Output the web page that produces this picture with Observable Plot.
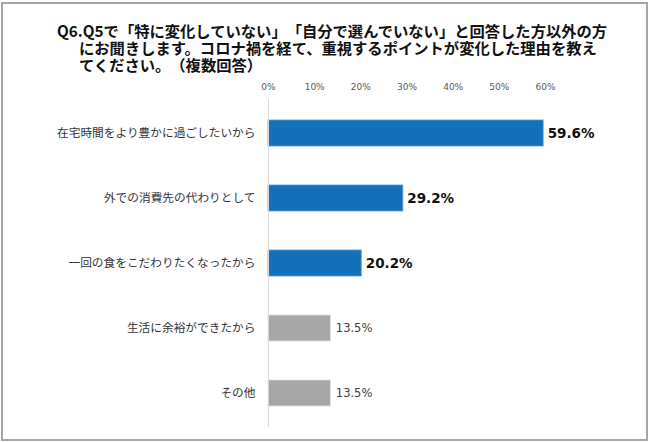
<!DOCTYPE html>
<html><head><meta charset="utf-8">
<script src="https://cdn.jsdelivr.net/npm/d3@7"></script>
<script src="https://cdn.jsdelivr.net/npm/@observablehq/plot@0.6"></script>
<style>
html,body{margin:0;padding:0;background:#fff;}
#wrap{position:relative;width:650px;height:442px;overflow:hidden;}
#frame{position:absolute;left:1px;top:2px;width:647px;height:439px;box-sizing:border-box;border:2px solid #a6a6a6;}
#title{position:absolute;left:57px;top:22px;font:bold 15.3px/17px "Noto Sans CJK JP",sans-serif;color:#111;white-space:nowrap;text-spacing-trim:space-all;}
#title .ln{display:block;height:17px;}
#title .ind{padding-left:22px;}
#chart{position:absolute;left:0;top:0;}
</style></head>
<body><div id="wrap"><div id="frame"></div><div id="chart"></div>
<div id="title"><span class="ln">Q6.Q5で「特に変化していない」「自分で選んでいない」と回答した方以外の方</span><span class="ln ind">にお聞きします。コロナ禍を経て、重視するポイントが変化した理由を教え</span><span class="ln ind">てください。（複数回答）</span></div>
</div>
<script>
const categories = ["在宅時間をより豊かに過ごしたいから","外での消費先の代わりとして","一回の食をこだわりたくなったから","生活に余裕ができたから","その他"];
const values = [59.6, 29.2, 20.2, 13.5, 13.5];
const emphasis = [true, true, true, false, false];
const tickValues = [0, 10, 20, 30, 40, 50, 60];

const data = categories.map((c, i) => ({category: c, value: values[i], emph: emphasis[i]}));
const hi = data.filter(d => d.emph);
const lo = data.filter(d => !d.emph);

const chart = Plot.plot({
  width: 650, height: 442,
  marginLeft: 268, marginRight: 105, marginTop: 98, marginBottom: 15,
  style: {background: "transparent", fontFamily: "DejaVu Sans, sans-serif"},
  x: {domain: [0, 60]},
  y: {domain: categories, paddingInner: 0.6, paddingOuter: 0.3},
  marks: [
    Plot.barX(hi, {x: "value", y: "category", fill: "#1470b8", stroke: "#5b9bd5", strokeWidth: 0.8}),
    Plot.barX(lo, {x: "value", y: "category", fill: "#a6a6a6", stroke: "#e0e0e0", strokeWidth: 0.8}),
    Plot.ruleX([0], {stroke: "#d9d9d9", strokeWidth: 1}),
    Plot.axisX({anchor: "top", ticks: tickValues, tickSize: 0, tickPadding: 9, tickFormat: d => d + "%", fontSize: 9, fill: "#595959", fontFamily: "DejaVu Sans", label: null}),
    Plot.axisY({anchor: "left", tickSize: 0, tickPadding: 13, fontSize: 11.7, fill: "#333", fontFamily: "Noto Sans CJK JP", label: null}),
    Plot.text(hi, {x: "value", y: "category", text: d => d.value.toFixed(1) + "%", textAnchor: "start", dx: 4, fontSize: 13.5, fontWeight: "bold", fill: "#111", fontFamily: "DejaVu Sans"}),
    Plot.text(lo, {x: "value", y: "category", text: d => d.value.toFixed(1) + "%", textAnchor: "start", dx: 5, fontSize: 11.5, fill: "#404040", fontFamily: "DejaVu Sans"})
  ]
});
document.getElementById("chart").appendChild(chart);
</script></body></html>
